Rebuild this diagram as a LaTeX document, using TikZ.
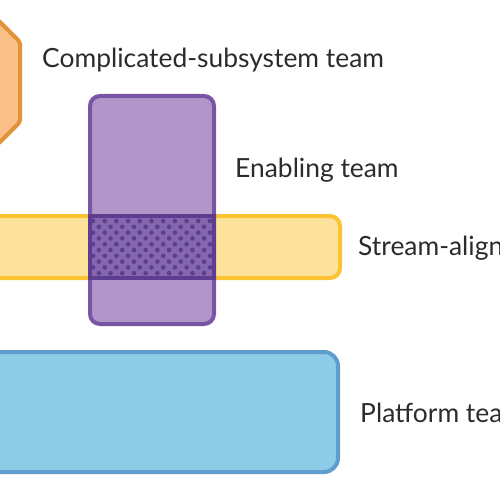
\documentclass[tikz,border=0pt]{standalone}
\usepackage{fontspec}
\setmainfont{Lato}
\definecolor{orfill}{HTML}{FBBF8A}
\definecolor{ordraw}{HTML}{E3923A}
\definecolor{pufill}{HTML}{B197C9}
\definecolor{pudraw}{HTML}{7B55A5}
\definecolor{yefill}{HTML}{FDE29B}
\definecolor{yedraw}{HTML}{FBC232}
\definecolor{ovfill}{HTML}{8567AF}
\definecolor{ovdark}{HTML}{5C3D90}
\definecolor{blfill}{HTML}{8ECBE7}
\definecolor{bldraw}{HTML}{5E9DCC}
\definecolor{txt}{HTML}{2B2B2B}
\begin{document}
\begin{tikzpicture}[x=1pt,y=-1pt,
  lbl/.style={anchor=base west,inner sep=0pt,text=txt,font=\fontsize{26.4}{30}\selectfont},
  teambox/.style={line width=4pt,rounded corners=10pt}]
\useasboundingbox (0,0) rectangle (500,500);
\clip (0,0) rectangle (500,500);
% complicated-subsystem (octagon)
\draw[teambox,rounded corners=2pt,fill=orfill,draw=ordraw] (-80,20) -- (-2,20) -- (20,42) -- (20,122) -- (-2,144) -- (-80,144) -- cycle;
\node[lbl] (cst) at (42,68) {Complicated-subsystem team};
% stream-aligned
\draw[teambox,fill=yefill,draw=yedraw] (-40,216) rectangle (340,278);
% enabling
\draw[teambox,fill=pufill,draw=pudraw] (90,96) rectangle (214,324);
% overlap
\fill[ovfill] (90,216) rectangle (214,278);
\begin{scope}
\clip (92,218) rectangle (212,276);
\foreach \r in {0,...,11}{
  \foreach \c in {0,...,11}{
    \pgfmathsetmacro{\xx}{93+\c*11.7+mod(\r,2)*5.85}
    \pgfmathsetmacro{\yy}{221+\r*5.8}
    \fill[ovdark] (\xx,\yy) circle (2.3pt);
  }
}
\end{scope}
\draw[line width=4pt,draw=ovdark] (90,216) rectangle (214,278);
\node[lbl] (ena) at (235,177) {Enabling team};
\node[lbl] (sa) at (358,255) {Stream-aligned team};
% platform
\draw[teambox,rounded corners=14pt,fill=blfill,draw=bldraw] (-40,352) rectangle (338,472);
\node[lbl] (pl) at (360,422) {Platform team};
\end{tikzpicture}
\end{document}
